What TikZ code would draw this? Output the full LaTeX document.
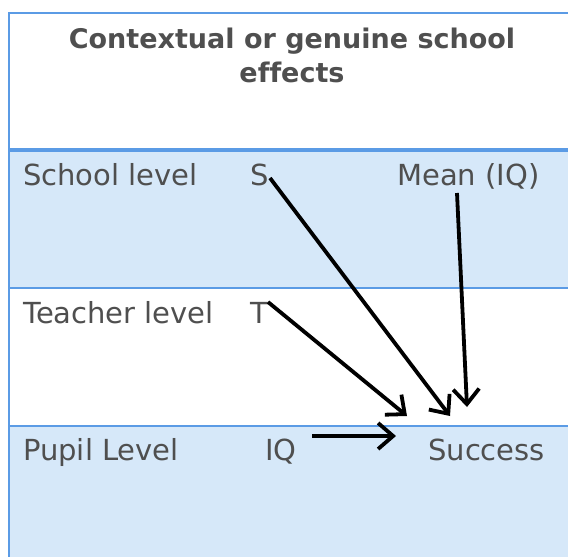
\documentclass[tikz,border=0pt]{standalone}
\usepackage{fontspec}
\setmainfont[Ligatures=NoCommon]{DejaVu Sans}
\usetikzlibrary{arrows.meta}
\definecolor{bordblue}{HTML}{5B9BE5}
\definecolor{fillblue}{HTML}{D6E8F9}
\definecolor{txt}{HTML}{4F4F4F}
\begin{document}
\begin{tikzpicture}[x=1pt,y=-1pt,
  lbl/.style={text=txt,font=\fontsize{29}{34}\selectfont,inner sep=0pt,anchor=base west},
  ttl/.style={text=txt,font=\fontsize{27}{34}\selectfont\bfseries,inner sep=0pt,anchor=base},
  arr/.style={line width=3.8pt,-{Straight Barb[length=15pt,width=26pt,line width=3.8pt]}},
  rowline/.style={bordblue,line width=1.8pt}]
\useasboundingbox (0,0) rectangle (568,557);
\fill[white] (0,0) rectangle (568,557);
\fill[fillblue] (9,150) rectangle (568,288);
\fill[fillblue] (9,426) rectangle (568,557);
\draw[bordblue,line width=2.2pt] (568,13) -- (9,13) -- (9,557);
\draw[bordblue,line width=3.2pt] (9,150) -- (568,150);
\draw[rowline] (9,288) -- (568,288);
\draw[rowline] (9,426) -- (568,426);
\node[ttl] (title1) at (292,48) {Contextual or genuine school};
\node[ttl] (title2) at (292,82) {effects};
\node[lbl] (school) at (23,185) {School level};
\node[lbl] (S) at (250,185) {S};
\node[lbl] (mean) at (397,185) {Mean (IQ)};
\node[lbl] (teacher) at (23,323) {Teacher level};
\node[lbl] (T) at (250,323) {T};
\node[lbl] (pupil) at (23,460) {Pupil Level};
\node[lbl] (IQ) at (265,460) {IQ};
\node[lbl] (success) at (428,460) {Success};
\coordinate (sS) at (270,178);
\coordinate (eS) at (450,416);
\coordinate (sT) at (268,302);
\coordinate (eT) at (407,416);
\coordinate (sM) at (457,193);
\coordinate (eM) at (467,407);
\coordinate (sI) at (312,436);
\coordinate (eI) at (396,436);
\draw[arr] (sS) -- (eS);
\draw[arr] (sT) -- (eT);
\draw[arr] (sM) -- (eM);
\draw[arr] (sI) -- (eI);
\end{tikzpicture}
\end{document}
